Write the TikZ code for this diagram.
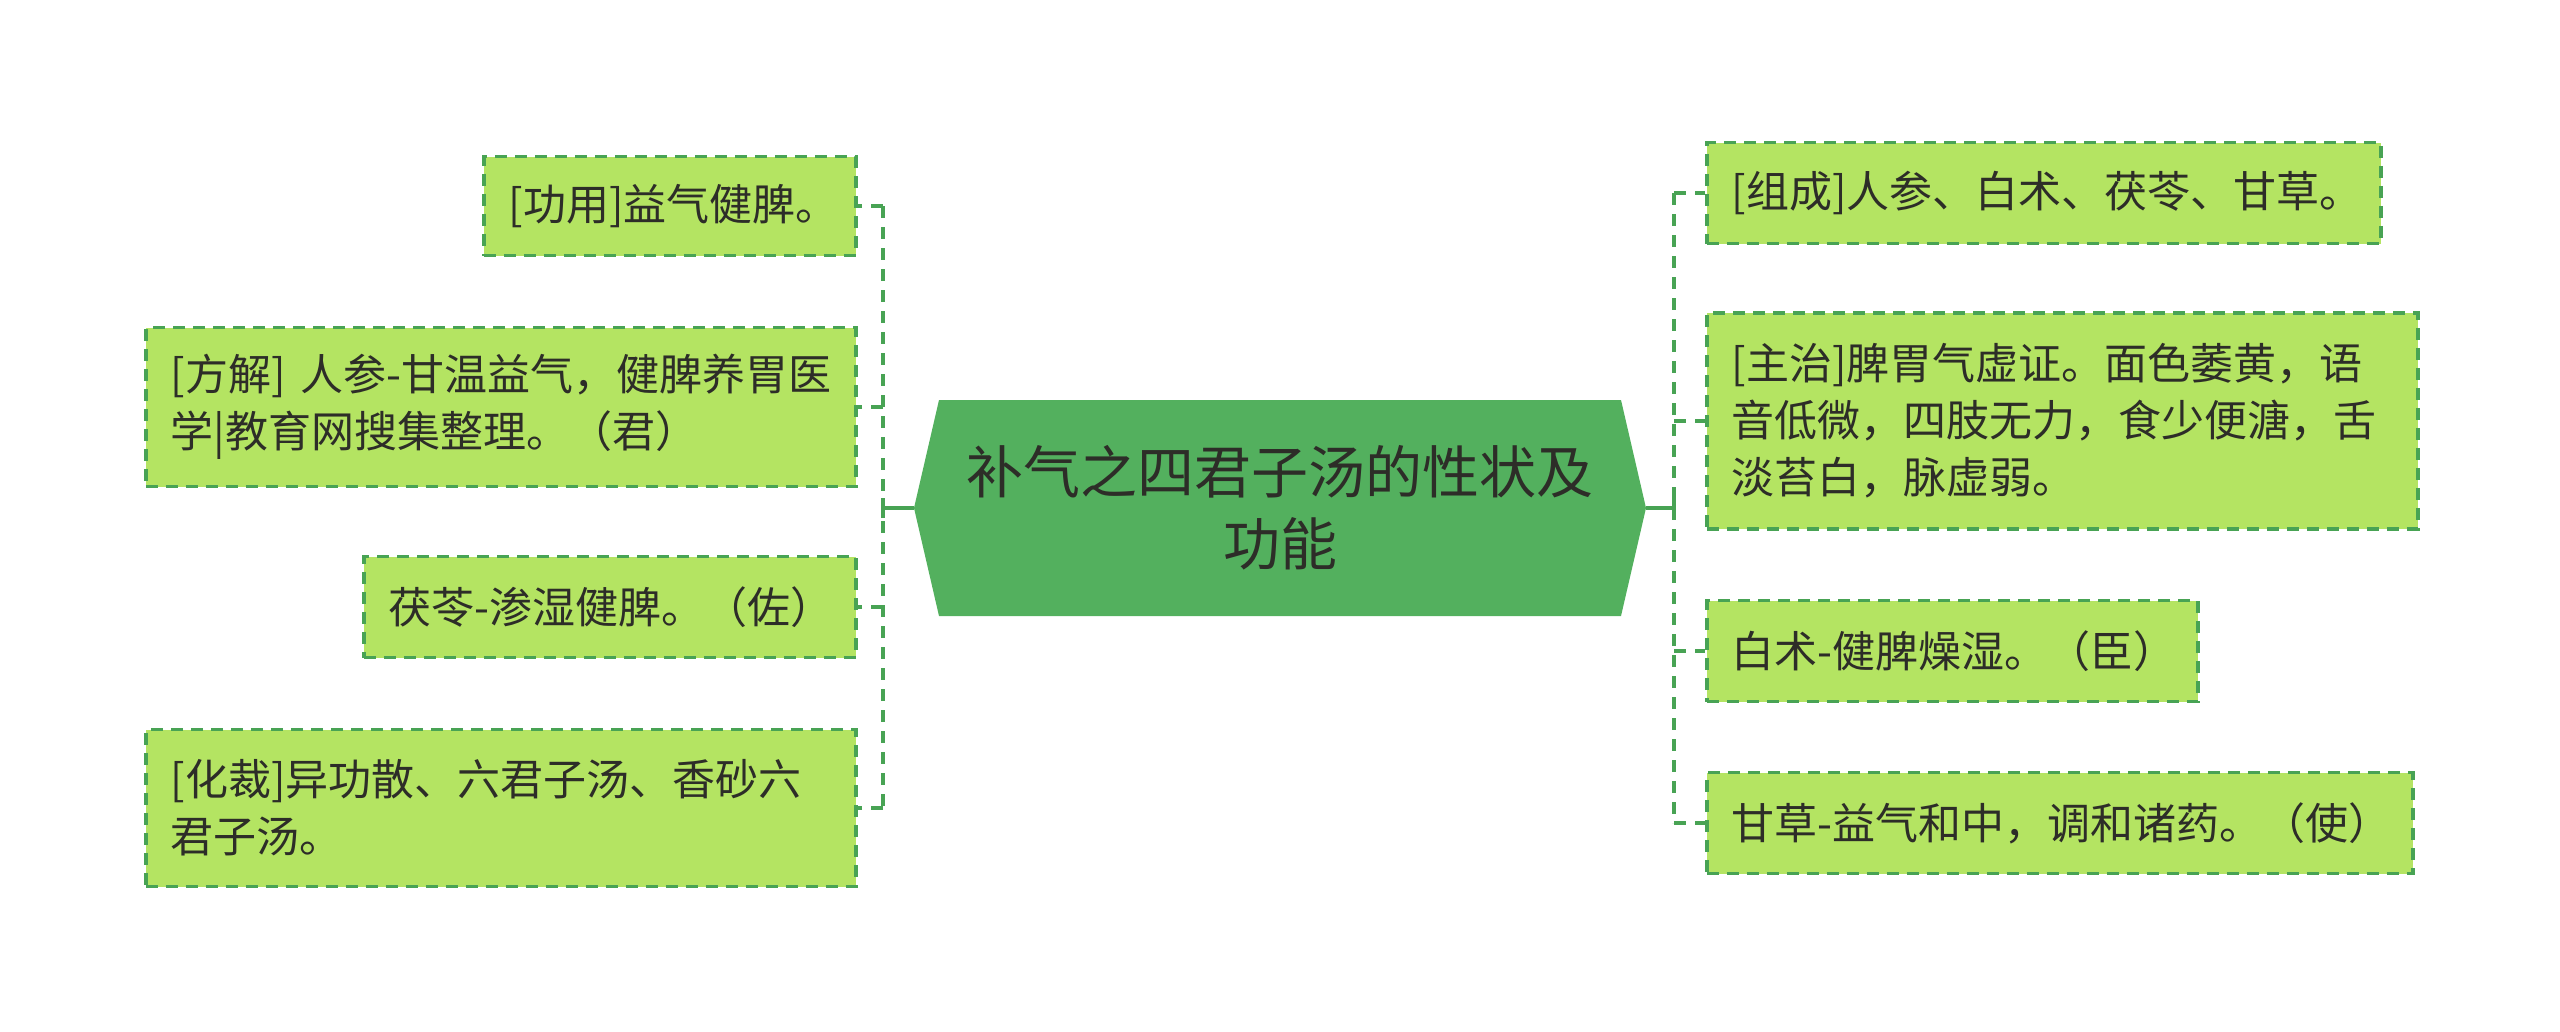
\documentclass[tikz,border=0pt]{standalone}
\usepackage{fontspec}
\newfontfamily\cjk{Noto Sans CJK SC}
\definecolor{hexfill}{RGB}{83,176,94}
\definecolor{leaffill}{RGB}{180,228,98}
\definecolor{linegreen}{RGB}{72,163,84}
\definecolor{txt}{RGB}{45,45,40}
\exhyphenpenalty=10000
\tikzset{
  leaf/.style={rectangle, draw=linegreen, fill=leaffill, line width=3.5pt,
    dash pattern=on 12pt off 8pt, anchor=west, align=left, inner xsep=25pt, inner ysep=0pt,
    text=txt, font=\cjk\fontsize{43}{57}\selectfont},
  conn/.style={draw=linegreen, line width=4.5pt, dash pattern=on 12pt off 9pt},
  solidconn/.style={draw=linegreen, line width=4.5pt}
}
\begin{document}
\begin{tikzpicture}[x=1pt,y=-1pt]
\useasboundingbox (0,0) rectangle (2560,1031);
% central hexagon
\fill[hexfill] (939,400) -- (1621,400) -- (1646,508) -- (1621,616) -- (939,616) -- (914,508) -- cycle;
\node[text=txt, font=\cjk\fontsize{57}{72}\selectfont, align=center] (c) at (1280,508) {\mbox{补气之四君子汤的性状及}\\功能};
\coordinate (cl) at (914,508);
\coordinate (cr) at (1646,508);
\coordinate (jl) at (883,508);
\coordinate (jr) at (1674,508);
% left leaves
\node[leaf, text width=322pt, minimum height=99pt] (b1) at (482,206) {\mbox{[功用]益气健脾。}};
\node[leaf, text width=660pt, minimum height=159pt] (b2) at (144,407) {\mbox{[方解] 人参-甘温益气，健脾养胃医}\\\mbox{学|教育网搜集整理。（君）}};
\node[leaf, text width=442pt, minimum height=101pt] (b3) at (362,607) {\mbox{茯苓-渗湿健脾。（佐）}};
\node[leaf, text width=660pt, minimum height=157pt] (b4) at (144,808) {\mbox{[化裁]异功散、六君子汤、香砂六}\\\mbox{君子汤。}};
% right leaves
\node[leaf, text width=624pt, minimum height=101pt] (r1) at (1705,193) {\mbox{[组成]人参、白术、茯苓、甘草。}};
\node[leaf, text width=661pt, minimum height=216pt] (r2) at (1705,421) {\mbox{[主治]脾胃气虚证。面色萎黄，语}\\\mbox{音低微，四肢无力，食少便溏，舌}\\\mbox{淡苔白，脉虚弱。}};
\node[leaf, text width=441pt, minimum height=101pt] (r3) at (1705,651) {\mbox{白术-健脾燥湿。（臣）}};
\node[leaf, text width=656pt, minimum height=101pt] (r4) at (1705,823) {\mbox{甘草-益气和中，调和诸药。（使）}};
% left connectors
\draw[solidconn] (cl) -- (jl);
\draw[solidconn] ([yshift=-10pt]jl) -- ([yshift=10pt]jl);
\draw[conn] (jl |- b1.east) -- (jl |- b4.east);
\foreach \n in {b1,b2,b3,b4} \draw[conn] (jl |- \n.east) -- (\n.east);
% right connectors
\draw[solidconn] (cr) -- (jr);
\draw[solidconn] ([yshift=-10pt]jr) -- ([yshift=10pt]jr);
\draw[conn] (jr |- r1.west) -- (jr |- r4.west);
\foreach \n in {r1,r2,r3,r4} \draw[conn] (jr |- \n.west) -- (\n.west);
\end{tikzpicture}
\end{document}
